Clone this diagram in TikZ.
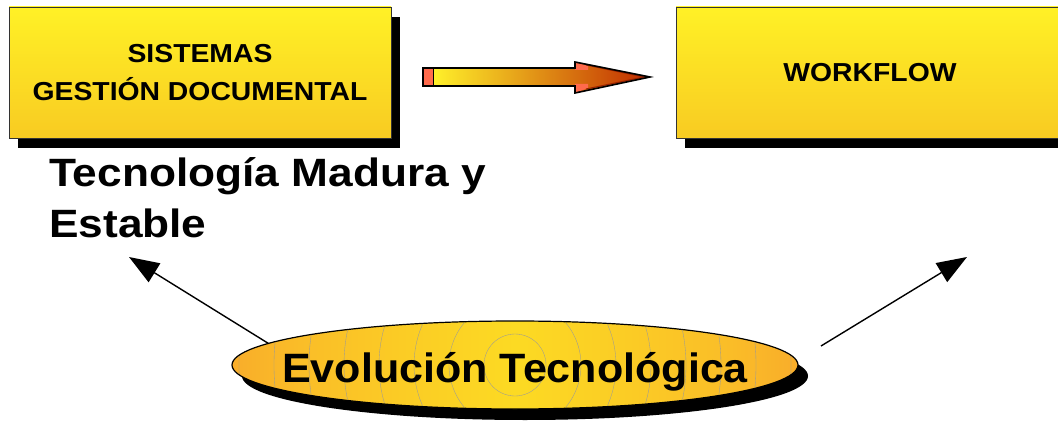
\documentclass[tikz,border=0pt]{standalone}
\usepackage{fontspec}
\setmainfont{Liberation Sans}
\newfontfamily\boxfont[FakeStretch=1.09]{Liberation Sans}
\newfontfamily\bigfont[FakeStretch=1.12]{Liberation Sans}
\newfontfamily\evofont[FakeStretch=1.05]{Liberation Sans}
\usetikzlibrary{shapes.geometric,shadows,arrows.meta}
\definecolor{ytop}{HTML}{FFF126}
\definecolor{ybot}{HTML}{F8CB22}
\definecolor{salmon}{HTML}{FF6A4C}
\definecolor{arrL}{HTML}{FFF02A}
\definecolor{arrM}{HTML}{E38D12}
\definecolor{arrR}{HTML}{C02A00}
\definecolor{eIn}{HTML}{FCDA23}
\definecolor{eMidA}{HTML}{FBCC25}
\definecolor{eMidB}{HTML}{FABD28}
\definecolor{eOut}{HTML}{F9AD2A}
\pgfdeclarehorizontalshading{evoshade}{100bp}{color(0bp)=(eOut); color(25bp)=(eOut); color(31bp)=(eMidB); color(40bp)=(eMidA); color(50bp)=(eIn); color(60bp)=(eMidA); color(69bp)=(eMidB); color(75bp)=(eOut); color(100bp)=(eOut)}
\tikzset{
  yellowbox/.style={rectangle, draw=black!80, line width=0.8pt, top color=ytop, bottom color=ybot,
    outer sep=0pt, inner sep=0pt, general shadow={fill=black, shadow xshift=9pt, shadow yshift=-10pt},
    font=\boxfont\bfseries\fontsize{26}{38}\selectfont, align=center},
  bigtext/.style={anchor=base west, inner sep=0pt, font=\bigfont\bfseries\fontsize{39.5}{47}\selectfont},
  thinarrow/.style={line width=1.4pt, -{Triangle[length=30pt,width=22pt]}},
  contour/.style={draw=black!40, line width=0.35pt}
}
\begin{document}
\begin{tikzpicture}[x=1pt,y=-1pt]
\useasboundingbox (0,0) rectangle (1058,425);

% boxes
\node[yellowbox, minimum width=382pt, minimum height=131pt] (gd) at (200,72.5) {SISTEMAS\\GESTIÓN DOCUMENTAL};
\node[yellowbox, minimum width=388pt, minimum height=131pt] (wf) at (870,72.5) {WORKFLOW};

% block arrow between boxes
\coordinate (ba1) at (650,77);
\fill[left color=arrL, middle color=arrM, right color=arrR]
  (433,68) -- (575,68) -- (575,62) -- (ba1) -- (575,93) -- (575,86) -- (433,86) -- cycle;
\fill[salmon] (423,68) rectangle (433,86);
\fill[salmon] (575,62) -- (588,66) -- (588,70) -- (575,70) -- cycle;
\fill[salmon] (575,93) -- (588,88) -- (588,84) -- (575,84) -- cycle;
\draw[arrR!80!black, line width=1pt] (586,65) -- (644,77) -- (586,89);
\draw[black, line width=1.6pt, line join=miter]
  (423,68) -- (575,68) -- (575,62) -- (ba1) -- (575,93) -- (575,86) -- (423,86) -- cycle;
\draw[black, line width=1pt] (433,68) -- (433,86);

% ellipse
\node[ellipse, draw=black, line width=1.2pt, minimum width=566pt, minimum height=88pt,
  inner sep=0pt, outer sep=0pt, shading=evoshade,
  general shadow={fill=black, shadow xshift=10pt, shadow yshift=-11pt}] (evo) at (515,365) {};
\begin{scope}
  \clip (515,365) ellipse (282 and 43);
  \foreach \r in {31,66,101,136,171,206,241,276}
    \draw[contour] (515,365) circle (\r);
\end{scope}
\node[inner sep=0pt, anchor=base, font=\evofont\bfseries\fontsize{41}{48}\selectfont] (evotext) at (515,382) {Evolución Tecnológica};

% text
\node[bigtext] (tec1) at (49,186) {Tecnología Madura y};
\node[bigtext] (tec2) at (49,237) {Estable};

% thin arrows
\coordinate (ltip) at (129,257);
\coordinate (rstart) at (821,346);
\coordinate (rtip) at (967,257);
\draw[thinarrow] (evo.175.5) -- (ltip);
\draw[thinarrow] (rstart) -- (rtip);
\end{tikzpicture}
\end{document}
